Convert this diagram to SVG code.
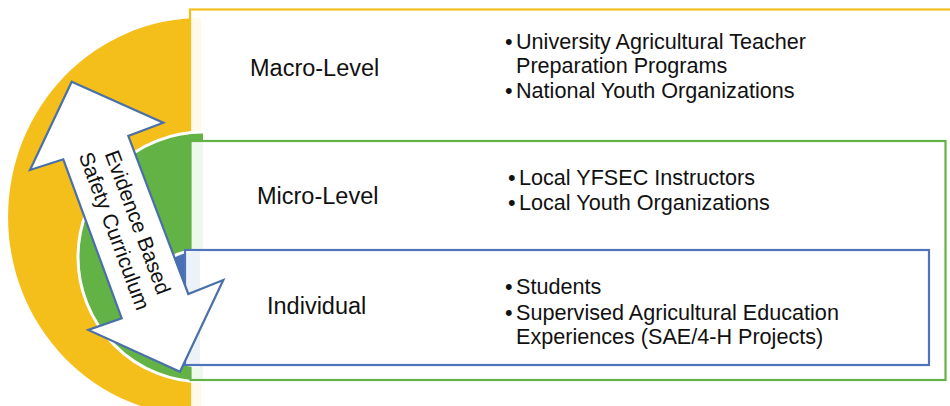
<svg xmlns="http://www.w3.org/2000/svg" width="950" height="406" viewBox="0 0 950 406">
  <defs>
    <style>
      .label { font-family: "Liberation Sans", Arial, sans-serif; font-size: 23.5px; fill: #111; }
      .item { font-family: "Liberation Sans", Arial, sans-serif; font-size: 21.6px; fill: #111; }
      .arrow-text { font-family: "Liberation Sans", Arial, sans-serif; font-size: 21px; fill: #111; text-anchor: middle; }
      .box { fill: #ffffff; fill-opacity: 0.9; stroke-width: 2.2; }
      .rim { fill: none; stroke: #ffffff; stroke-width: 3; }
    </style>
  </defs>

  <!-- Macro level: gold half-disc and its box -->
  <g id="macro-level">
    <path d="M201,18 A193,199 0 0,0 201,416 Z" fill="#F4BE1B"/>
    <rect class="box" x="190" y="9.5" width="780" height="410" stroke="#F4BE1B"/>
    <text class="label" x="250" y="76">Macro-Level</text>
    <text class="item" x="505" y="49">•</text>
    <text class="item" x="516" y="49">University Agricultural Teacher</text>
    <text class="item" x="516" y="73">Preparation Programs</text>
    <text class="item" x="505" y="98">•</text>
    <text class="item" x="516" y="98">National Youth Organizations</text>
  </g>

  <!-- Micro level: green half-disc and its box -->
  <g id="micro-level">
    <path d="M203,132 A125,125 0 0,0 203,382 Z" fill="#62B245"/>
    <path class="rim" d="M203,132 A125,125 0 0,0 203,382"/>
    <rect class="box" x="190.5" y="141" width="755" height="239" stroke="#62B245"/>
    <text class="label" x="257" y="204">Micro-Level</text>
    <text class="item" x="508" y="185">•</text>
    <text class="item" x="519" y="185">Local YFSEC Instructors</text>
    <text class="item" x="508" y="210">•</text>
    <text class="item" x="519" y="210">Local Youth Organizations</text>
  </g>

  <!-- Individual level: blue half-disc and its box -->
  <g id="individual-level">
    <path d="M200,250 A58,58 0 0,0 200,366 Z" fill="#4A70B8"/>
    <path class="rim" d="M200,250 A58,58 0 0,0 200,366"/>
    <rect class="box" x="185" y="250" width="744" height="115" stroke="#5074BA"/>
    <text class="label" x="267" y="314">Individual</text>
    <text class="item" x="505" y="294">•</text>
    <text class="item" x="516" y="294">Students</text>
    <text class="item" x="505" y="320">•</text>
    <text class="item" x="516" y="320">Supervised Agricultural Education</text>
    <text class="item" x="516" y="344">Experiences (SAE/4-H Projects)</text>
  </g>

  <!-- Connector: double-headed curriculum arrow -->
  <g id="connectors">
    <g id="curriculum-arrow">
      <polygon points="71.7,81.7 163.3,122.7 128.3,136 188.3,294 223.3,280 180,371.7 88.3,330 121.7,318.3 63.3,159.3 30,170"
               fill="#ffffff" stroke="#4A70A8" stroke-width="2.2" stroke-linejoin="miter"/>
      <g transform="translate(125.4,226.9) rotate(69.5)">
        <text class="arrow-text" x="0" y="-6">Evidence Based</text>
        <text class="arrow-text" x="0" y="19">Safety Curriculum</text>
      </g>
    </g>
  </g>
</svg>
